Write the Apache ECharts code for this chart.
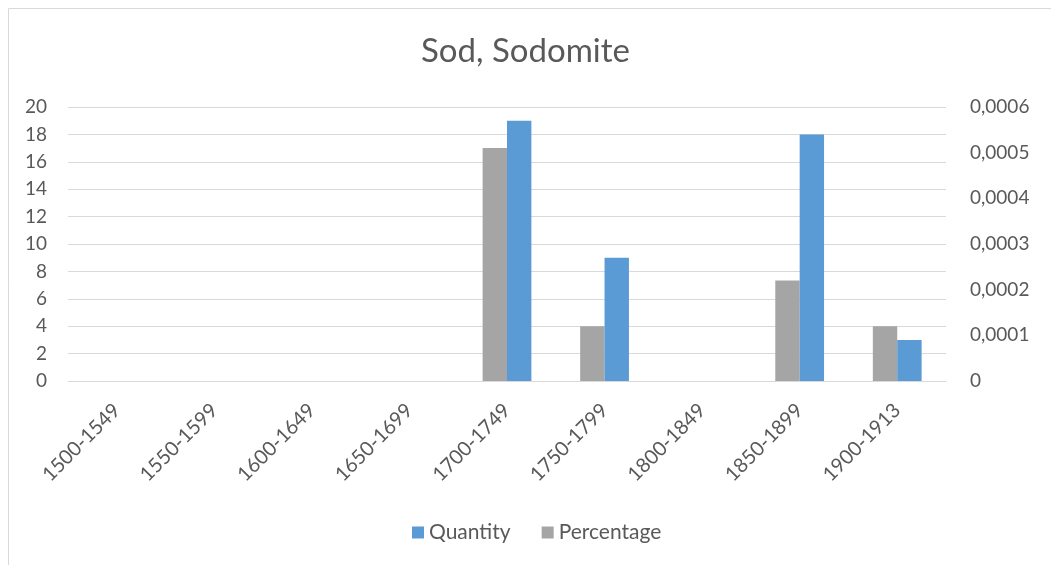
<!DOCTYPE html>
<html>
<head>
<meta charset="utf-8">
<script src="https://cdn.jsdelivr.net/npm/echarts@6/dist/echarts.min.js"></script>
<style>html,body{margin:0;padding:0;background:#fff}#c{width:1051px;height:565px}</style>
</head>
<body>
<div id="c"></div>
<script>
var categories = ['1500-1549','1550-1599','1600-1649','1650-1699','1700-1749','1750-1799','1800-1849','1850-1899','1900-1913'];
var quantity = [0, 0, 0, 0, 19, 9, 0, 18, 3];
var percentage = [0, 0, 0, 0, 0.00051, 0.00012, 0, 0.00022, 0.00012];
var leftTicks = {min: 0, max: 20, interval: 2};
var rightTicks = {min: 0, max: 0.0006, interval: 0.0001};

var FONT = 'Lato, "Liberation Sans", sans-serif';
var TXT = '#595959';
var chart = echarts.init(document.getElementById('c'));
chart.setOption({
  animation: false,
  backgroundColor: '#fff',
  graphic: [{
    type: 'rect', shape: {x: 8.5, y: 8.5, width: 1100, height: 600},
    style: {fill: 'none', stroke: '#D9D9D9', lineWidth: 1}, silent: true
  }],
  title: {
    text: 'Sod, Sodomite', left: 'center', top: 30,
    textStyle: {fontFamily: FONT, fontSize: 33, fontWeight: 'normal', color: TXT}
  },
  legend: {
    data: ['Quantity', 'Percentage'], bottom: 17, left: 407,
    itemWidth: 12, itemHeight: 12, itemGap: 31, icon: 'rect',
    textStyle: {fontFamily: FONT, fontSize: 21, color: TXT}
  },
  grid: {left: 68, right: 105, top: 107, bottom: 184, containLabel: false},
  xAxis: {
    type: 'category', data: categories,
    axisLine: {lineStyle: {color: '#D9D9D9', width: 1}},
    axisTick: {show: false},
    axisLabel: {rotate: 45, interval: 0, margin: 26, fontFamily: FONT, fontSize: 20, color: TXT}
  },
  yAxis: [{
    type: 'value', min: leftTicks.min, max: leftTicks.max, interval: leftTicks.interval,
    axisLine: {show: false}, axisTick: {show: false},
    splitLine: {lineStyle: {color: '#D9D9D9', width: 1}},
    axisLabel: {margin: 21, fontFamily: FONT, fontSize: 19, color: TXT}
  }, {
    type: 'value', min: rightTicks.min, max: rightTicks.max, interval: rightTicks.interval,
    position: 'right',
    axisLine: {show: false}, axisTick: {show: false}, splitLine: {show: false},
    axisLabel: {
      margin: 24, fontFamily: FONT, fontSize: 19, color: TXT,
      formatter: function (v) { return v === 0 ? '0' : v.toFixed(4).replace('.', ','); }
    }
  }],
  series: [{
    name: 'Percentage', type: 'bar', yAxisIndex: 1, data: percentage,
    itemStyle: {color: '#A5A5A5'}, barGap: '0%', barCategoryGap: '50%'
  }, {
    name: 'Quantity', type: 'bar', yAxisIndex: 0, data: quantity,
    itemStyle: {color: '#5B9BD5'}, barGap: '0%', barCategoryGap: '50%'
  }]
});
</script>
</body>
</html>
